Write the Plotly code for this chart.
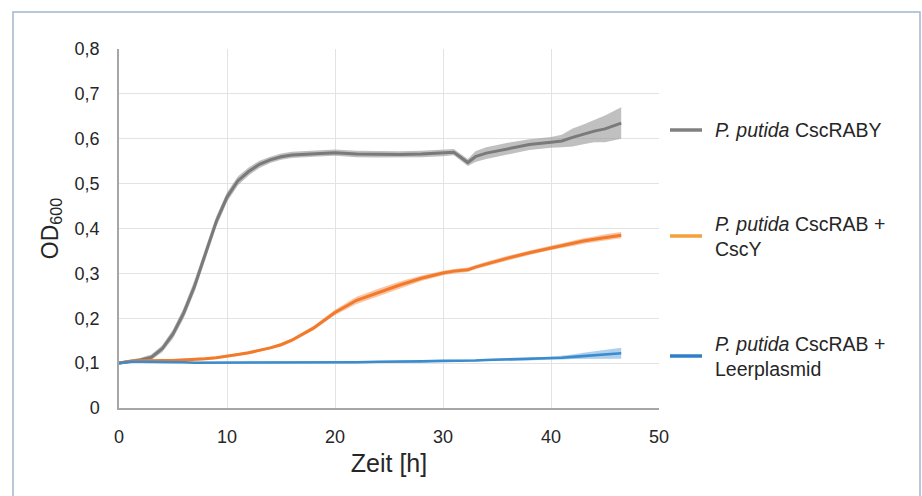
import plotly.graph_objects as go

# time points [h]
t = [0, 1, 2, 3, 4, 5, 6, 7, 8, 9, 10, 11, 12, 13, 14, 15, 16, 18, 20, 22, 24, 26, 28,
     30, 31, 32.3, 33, 34, 36, 38, 40, 41, 42, 43, 44, 45, 46.5]

# P. putida CscRABY
raby_mean = [0.100, 0.103, 0.107, 0.113, 0.132, 0.165, 0.212, 0.272, 0.345, 0.415, 0.470,
             0.506, 0.527, 0.543, 0.553, 0.560, 0.564, 0.567, 0.569, 0.566, 0.565, 0.565,
             0.566, 0.568, 0.570, 0.547, 0.560, 0.568, 0.578, 0.587, 0.592, 0.595, 0.603,
             0.610, 0.617, 0.622, 0.635]
raby_sd = [0.003, 0.004, 0.005, 0.006, 0.008, 0.010, 0.012, 0.013, 0.013, 0.012, 0.011,
           0.010, 0.009, 0.008, 0.007, 0.007, 0.007, 0.007, 0.007, 0.007, 0.007, 0.007,
           0.007, 0.007, 0.007, 0.008, 0.012, 0.013, 0.013, 0.012, 0.012, 0.014, 0.020,
           0.022, 0.025, 0.030, 0.035]

# P. putida CscRAB + CscY
csy_mean = [0.100, 0.104, 0.105, 0.106, 0.106, 0.106, 0.107, 0.108, 0.110, 0.112, 0.115,
            0.119, 0.123, 0.128, 0.134, 0.141, 0.151, 0.178, 0.213, 0.240, 0.257, 0.274,
            0.289, 0.301, 0.305, 0.308, 0.314, 0.321, 0.334, 0.346, 0.357, 0.362, 0.367,
            0.372, 0.376, 0.380, 0.385]
csy_sd = [0.002, 0.003, 0.003, 0.003, 0.003, 0.003, 0.003, 0.003, 0.003, 0.003, 0.003,
          0.003, 0.003, 0.003, 0.003, 0.004, 0.004, 0.005, 0.006, 0.008, 0.009, 0.008,
          0.006, 0.005, 0.005, 0.005, 0.005, 0.005, 0.005, 0.005, 0.005, 0.005, 0.006,
          0.006, 0.006, 0.007, 0.007]

# P. putida CscRAB + Leerplasmid
leer_mean = [0.100, 0.103, 0.103, 0.103, 0.102, 0.102, 0.102, 0.101, 0.101, 0.101, 0.101,
             0.101, 0.101, 0.101, 0.101, 0.101, 0.101, 0.102, 0.102, 0.102, 0.103, 0.103,
             0.104, 0.105, 0.105, 0.106, 0.106, 0.107, 0.108, 0.109, 0.111, 0.112, 0.114,
             0.116, 0.118, 0.120, 0.122]
leer_sd = [0.002, 0.002, 0.002, 0.002, 0.002, 0.002, 0.002, 0.002, 0.002, 0.002, 0.002,
           0.002, 0.002, 0.002, 0.002, 0.002, 0.002, 0.002, 0.002, 0.002, 0.002, 0.002,
           0.002, 0.002, 0.002, 0.002, 0.002, 0.002, 0.002, 0.003, 0.003, 0.004, 0.005,
           0.007, 0.008, 0.010, 0.012]

series_names = ["<i>P. putida</i> CscRABY",
                "<i>P. putida</i> CscRAB +<br>CscY",
                "<i>P. putida</i> CscRAB +<br>Leerplasmid"]

x_ticks = [0, 10, 20, 30, 40, 50]
y_ticks = [0, 0.1, 0.2, 0.3, 0.4, 0.5, 0.6, 0.7, 0.8]
y_ticktext = ["0", "0,1", "0,2", "0,3", "0,4", "0,5", "0,6", "0,7", "0,8"]

FONT = "Liberation Sans, Arial, sans-serif"
series = [
    (raby_mean, raby_sd, "#7a7a7a", "rgba(150,150,150,0.6)", 3.0, "#808080"),
    (csy_mean, csy_sd, "#f27a2a", "rgba(245,150,90,0.55)", 3.0, "#f5a03a"),
    (leer_mean, leer_sd, "#3b8ccf", "rgba(110,170,220,0.55)", 2.6, "#2f7fc8"),
]

fig = go.Figure()
for mean, sd, col, band, w, _ in series:
    upper = [m + s for m, s in zip(mean, sd)]
    lower = [m - s for m, s in zip(mean, sd)]
    fig.add_trace(go.Scatter(x=t + t[::-1], y=upper + lower[::-1], fill="toself",
                             fillcolor=band, line=dict(width=0), hoverinfo="skip",
                             showlegend=False))
    fig.add_trace(go.Scatter(x=t, y=mean, mode="lines", line=dict(color=col, width=w),
                             showlegend=False))

# manual legend (pixel layout converted to paper coords)
PL, PR, PT, PB = 119, 659, 49, 408
def px(xp):
    return (xp - PL) / (PR - PL)
def py(yp):
    return (PB - yp) / (PB - PT)

legend_y = [130, 236, 356]
for (mean, sd, col, band, w, lcol), name, ly in zip(series, series_names, legend_y):
    fig.add_shape(type="line", xref="paper", yref="paper", x0=px(670), x1=px(702),
                  y0=py(ly), y1=py(ly), line=dict(color=lcol, width=3.5))
    fig.add_annotation(xref="paper", yref="paper", x=px(713), y=py(ly), text=name,
                       showarrow=False, xanchor="left", yanchor="middle", align="left",
                       font=dict(family=FONT, size=19.5, color="#262626"))

# outer frame
fig.add_shape(type="rect", xref="paper", yref="paper", x0=px(13), x1=px(920),
              y0=py(520), y1=py(12), line=dict(color="#a3b6cc", width=1.5),
              layer="below")

fig.update_layout(
    width=922, height=496,
    margin=dict(l=PL, r=922 - PR, t=PT, b=496 - PB),
    paper_bgcolor="white", plot_bgcolor="white",
    font=dict(family=FONT, size=18, color="#262626"),
    xaxis=dict(range=[0, 50], tickvals=x_ticks, showgrid=True, gridcolor="#e3e3e3",
               gridwidth=1, showline=True, linecolor="#a6a6a6", linewidth=1.5,
               zeroline=False, ticks="", ticklabelstandoff=12,
               title=dict(text="Zeit [h]", font=dict(size=25), standoff=8),
               tickfont=dict(size=18)),
    yaxis=dict(range=[0, 0.8], tickvals=y_ticks, ticktext=y_ticktext, showgrid=True,
               gridcolor="#e3e3e3", gridwidth=1, showline=True, linecolor="#a6a6a6",
               linewidth=1.5, zeroline=False, ticks="", ticklabelstandoff=14,
               title=dict(text="OD<sub>600</sub>", font=dict(size=23), standoff=10),
               tickfont=dict(size=18)),
)

fig.write_html("out.html", config={"displayModeBar": False},
               post_script="document.body.style.margin='0px';")
